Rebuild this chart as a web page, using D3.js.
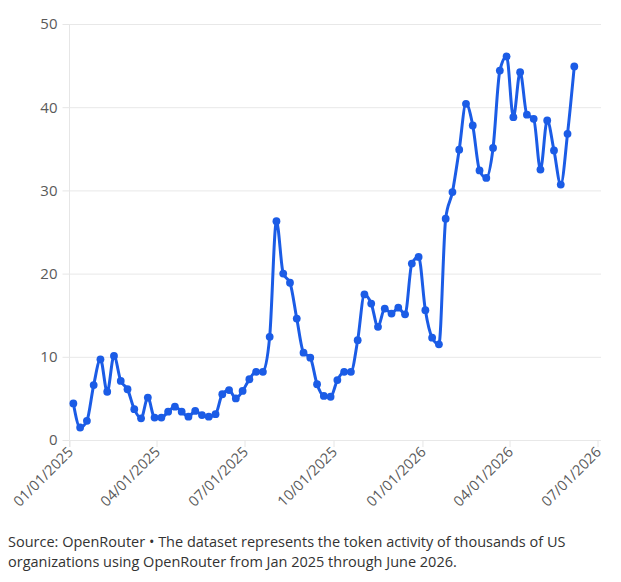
<!DOCTYPE html>
<html>
<head>
<meta charset="utf-8">
<script src="https://cdn.jsdelivr.net/npm/d3@7"></script>
<style>
  html, body { margin: 0; padding: 0; background: #fff; }
  svg { display: block; }
</style>
</head>
<body>
<svg id="chart" width="621" height="582"></svg>
<script>
// Weekly series, starting Sunday 2025-01-05
const startDate = "2025-01-05";
const values = [
  4.4, 1.5, 2.3, 6.6, 9.7, 5.8, 10.1, 7.1, 6.1, 3.7,
  2.6, 5.1, 2.7, 2.7, 3.4, 4.0, 3.4, 2.8, 3.5, 3.0,
  2.8, 3.1, 5.5, 6.0, 5.0, 5.9, 7.3, 8.2, 8.2, 12.4,
  26.3, 20.0, 18.9, 14.6, 10.5, 9.9, 6.7, 5.3, 5.2, 7.2,
  8.2, 8.2, 12.0, 17.5, 16.4, 13.6, 15.8, 15.2, 15.9, 15.1,
  21.2, 22.0, 15.6, 12.3, 11.5, 26.6, 29.8, 34.9, 40.4, 37.8,
  32.4, 31.5, 35.1, 44.4, 46.1, 38.8, 44.2, 39.1, 38.6, 32.5,
  38.4, 34.8, 30.7, 36.8, 44.9
];
const xTickLabels = ["01/01/2025","04/01/2025","07/01/2025","10/01/2025","01/01/2026","04/01/2026","07/01/2026"];
const yTicks = [0, 10, 20, 30, 40, 50];
const footnoteLines = [
  "Source: OpenRouter \u2022 The dataset represents the token activity of thousands of US",
  "organizations using OpenRouter from Jan 2025 through June 2026."
];

(function () {
  const parse = d3.timeParse("%m/%d/%Y");
  const parseISO = d3.timeParse("%Y-%m-%d");
  const start = parseISO(startDate);
  const data = values.map((v, i) => ({ date: d3.timeDay.offset(start, i * 7), value: v }));
  const tickDates = xTickLabels.map(parse);

  const svg = d3.select("#chart");
  const mLeft = 69.5, mRight = 597.5, mTop = 24, mBottom = 440;
  const gridRight = 601;

  const x = d3.scaleTime().domain([tickDates[0], tickDates[tickDates.length - 1]]).range([mLeft, mRight]);
  const y = d3.scaleLinear().domain([0, 50]).range([mBottom, mTop]);

  const fontFam = '"Open Sans", "Noto Sans", sans-serif';

  // y axis + horizontal gridlines
  const yAxis = d3.axisLeft(y).tickValues(yTicks).tickSize(7).tickPadding(5).tickFormat(d3.format("d"));
  const gy = svg.append("g").attr("transform", `translate(${mLeft},0)`).call(yAxis);
  gy.select(".domain").attr("stroke", "#e6e6e6").attr("d", `M0,${mTop}V${mBottom + 7}`);
  gy.selectAll(".tick line").attr("stroke", "#e6e6e6");
  gy.selectAll(".tick").append("line")
    .attr("x1", 0).attr("x2", gridRight - mLeft).attr("stroke", "#e8e8e8");
  gy.selectAll(".tick text").attr("fill", "#5a5a5a").style("font-family", fontFam).style("font-size", "15px");

  // x axis
  const xAxis = d3.axisBottom(x).tickValues(tickDates).tickSize(7).tickFormat((d, i) => xTickLabels[i]);
  const gx = svg.append("g").attr("transform", `translate(0,${mBottom})`).call(xAxis);
  gx.select(".domain").remove();
  gx.selectAll(".tick line").attr("stroke", "#e6e6e6");
  gx.selectAll(".tick text")
    .attr("fill", "#5a5a5a")
    .style("font-family", fontFam).style("font-size", "14.5px")
    .attr("text-anchor", "end")
    .attr("dy", null)
    .attr("y", 0).attr("x", 0)
    .attr("transform", "translate(4,13) rotate(-45)");

  // line + points
  const line = d3.line().x(d => x(d.date)).y(d => y(d.value)).curve(d3.curveMonotoneX);
  svg.append("path").datum(data)
    .attr("fill", "none").attr("stroke", "#1b5ce6").attr("stroke-width", 3)
    .attr("stroke-linejoin", "round").attr("d", line);
  svg.append("g").selectAll("circle").data(data).join("circle")
    .attr("cx", d => x(d.date)).attr("cy", d => y(d.value)).attr("r", 3.9)
    .attr("fill", "#1b5ce6");

  // footnote
  svg.append("g").selectAll("text").data(footnoteLines).join("text")
    .attr("x", 8).attr("y", (d, i) => 547 + i * 19.5)
    .attr("fill", "#333").style("font-family", fontFam).style("font-size", "14.5px")
    .text(d => d);
})();
</script>
</body>
</html>
